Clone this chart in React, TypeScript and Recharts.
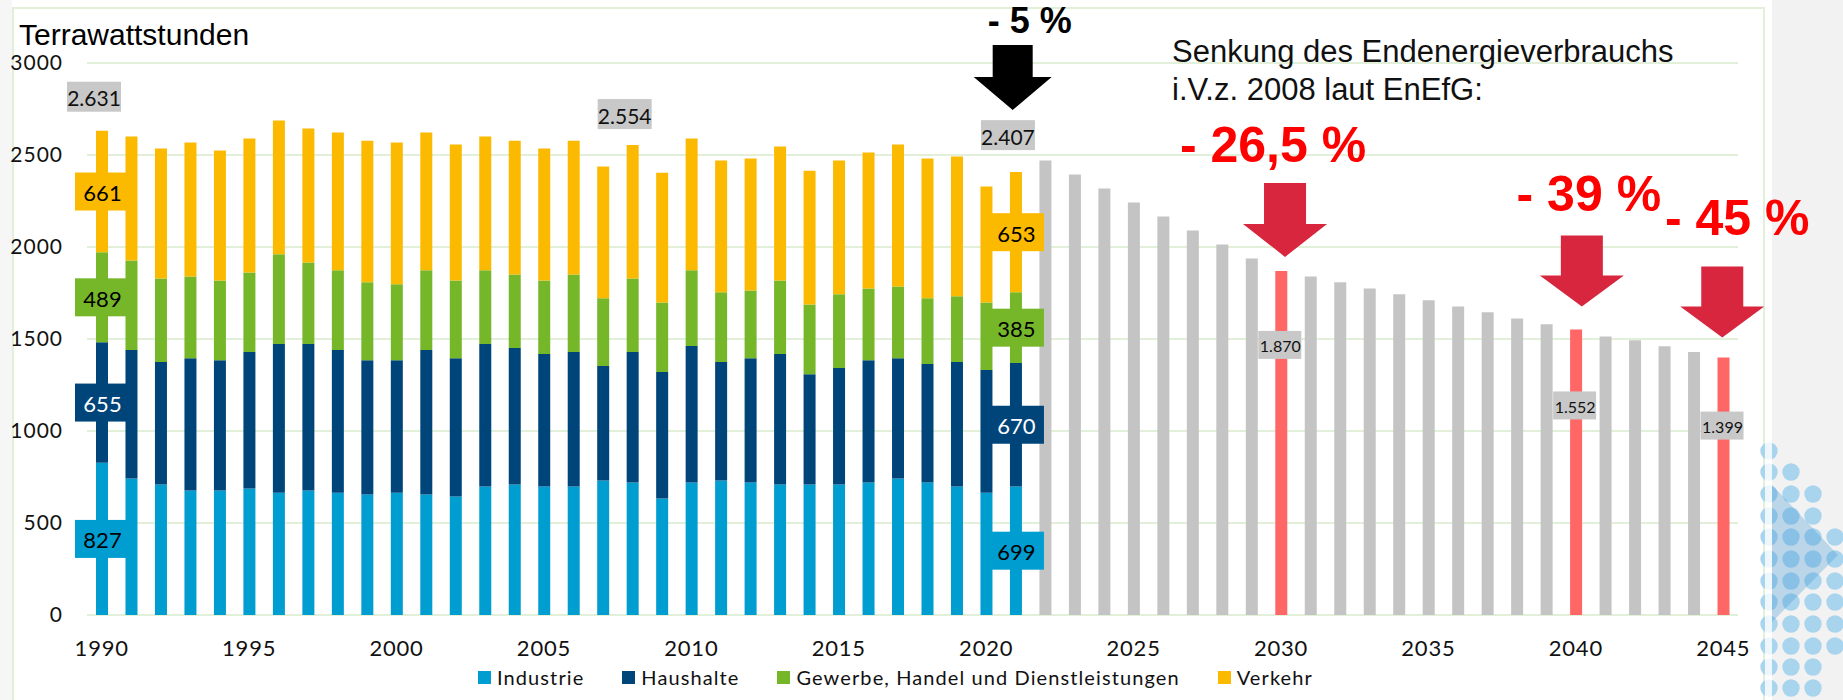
import React from 'react';
import { BarChart, Bar, XAxis, YAxis, CartesianGrid, Legend, LabelList, ReferenceDot, Cell } from 'recharts';

// ---------- data ----------
const years = [
  '1990', '1991', '1992', '1993', '1994', '1995', '1996', '1997', '1998', '1999',
  '2000', '2001', '2002', '2003', '2004', '2005', '2006', '2007', '2008', '2009',
  '2010', '2011', '2012', '2013', '2014', '2015', '2016', '2017', '2018', '2019',
  '2020', '2021', '2022', '2023', '2024', '2025', '2026', '2027', '2028', '2029',
  '2030', '2031', '2032', '2033', '2034', '2035', '2036', '2037', '2038', '2039',
  '2040', '2041', '2042', '2043', '2044', '2045',
];

// historical years 1990–2021 (TWh)
const industrie = [
  827, 742, 709, 676, 676, 687, 665, 676, 665, 655,
  665, 655, 644, 698, 709, 698, 698, 731, 720, 633,
  720, 731, 720, 709, 709, 709, 720, 742, 720, 698,
  665, 699,
];
const haushalte = [
  655, 698, 666, 720, 709, 742, 808, 797, 775, 730,
  720, 785, 752, 775, 742, 720, 731, 622, 709, 687,
  742, 644, 676, 709, 600, 633, 665, 654, 644, 677,
  666, 670,
];
const gewerbe = [
  489, 487, 454, 444, 433, 433, 487, 443, 433, 423,
  412, 433, 422, 400, 400, 400, 422, 368, 400, 379,
  411, 379, 368, 400, 379, 401, 390, 390, 357, 357,
  368, 385,
];
const verkehr = [
  661, 673, 706, 728, 706, 727, 727, 728, 749, 770,
  771, 749, 739, 727, 727, 717, 727, 716, 725, 705,
  716, 716, 717, 728, 727, 727, 738, 771, 760, 760,
  630, 653,
];
// projection years 2022–2045 (TWh)
const prognose = [
  2470, 2394, 2318, 2242, 2166, 2090, 2014, 1938, 1870, 1840,
  1808, 1775, 1743, 1710, 1677, 1645, 1612, 1580, 1552, 1514,
  1493, 1460, 1429, 1399,
];

const yTicks = [0, 500, 1000, 1500, 2000, 2500, 3000];

const segmentLabelYears = ['1990', '2021'];
const totalLabelYears = ['1990', '2008', '2021'];
const totalLabelValues = [2631, 2554, 2407];
const targetYears = ['2030', '2040', '2045'];
const targetTexts = ['- 26,5 %', '- 39 %', '- 45 %'];
const currentYear = '2021';
const currentText = '- 5 %';

const seriesNames = ['Industrie', 'Haushalte', 'Gewerbe, Handel und Dienstleistungen', 'Verkehr'];

// ---------- styles ----------
const C_IND = '#009DD1';
const C_HH = '#00457A';
const C_GHD = '#76B72A';
const C_VK = '#FBBA00';
const C_GRAY = '#C4C4C4';
const C_TARGET = '#FF6666';
const C_BOX = '#C8C8C8';
const C_ARROW = '#D7263D';
const C_GRID = '#E2F0D9';
const SANS = 'Lato, "Open Sans", sans-serif';
const ARIAL = '"Liberation Sans", Arial, sans-serif';
const totalLabelLift = [34, 31, 37];
const targetLabelDrop = [74, 76, 68];

const nHist = industrie.length;
const data = years.map((year, i) => ({
  year,
  industrie: i < nHist ? industrie[i] : null,
  haushalte: i < nHist ? haushalte[i] : null,
  gewerbe: i < nHist ? gewerbe[i] : null,
  verkehr: i < nHist ? verkehr[i] : null,
  prognose: i >= nHist ? prognose[i - nHist] : null,
}));

const legendItems = [
  { name: seriesNames[0], color: C_IND },
  { name: seriesNames[1], color: C_HH },
  { name: seriesNames[2], color: C_GHD },
  { name: seriesNames[3], color: C_VK },
];

const boxOf = (p: any) => {
  const vb = p.viewBox ?? {};
  const x = Number(p.x ?? vb.x);
  const y = Number(p.y ?? vb.y);
  const w = Number(p.width ?? vb.width);
  const h = Number(p.height ?? vb.height);
  return { x, y: h < 0 ? y + h : y, width: w, height: Math.abs(h) };
};

// find the category year of a label entry, robust to skipped empty entries
const yearOfSeries = (p: any, arr: number[], start: number): string => {
  if (p?.payload?.year) return p.payload.year as string;
  const i = Number(p.index);
  const v = Array.isArray(p.value) ? p.value[1] - p.value[0] : Number(p.value);
  if (i - start >= 0 && arr[i - start] === v) return years[i];
  if (arr[i] === v) return years[start + i];
  return years[i];
};
const fmtDE = (v: number) => v.toLocaleString('de-DE');

const segmentLabel = (arr: number[], fill: string, textColor: string) => (p: any) => {
  const year = yearOfSeries(p, arr, 0);
  if (!segmentLabelYears.includes(year)) return null;
  const { x, y, width, height } = boxOf(p);
  const cx = x + width / 2;
  const cy = y + height / 2;
  const v = arr[years.indexOf(year)];
  return (
    <g>
      <rect x={cx - 27} y={cy - 19} width={55} height={38} fill={fill} />
      <text x={cx + 0.5} y={cy + 1} textAnchor="middle" dominantBaseline="central" fontSize={22} fontFamily={SANS} fill={textColor}>
        {v}
      </text>
    </g>
  );
};

const totalLabel = (p: any) => {
  const year = yearOfSeries(p, verkehr, 0);
  const k = totalLabelYears.indexOf(year);
  if (k < 0) return null;
  const { x, y, width } = boxOf(p);
  const cx = x + width / 2 - 8;
  const cy = y - totalLabelLift[k];
  return (
    <g>
      <rect x={cx - 27} y={cy - 15} width={54} height={30} fill={C_BOX} />
      <text x={cx} y={cy + 1} textAnchor="middle" dominantBaseline="central" fontSize={21} fontFamily={SANS} fill="#111">
        {fmtDE(totalLabelValues[k])}
      </text>
    </g>
  );
};

const targetLabel = (p: any) => {
  const year = yearOfSeries(p, prognose, nHist);
  const k = targetYears.indexOf(year);
  if (k < 0) return null;
  const { x, y, width } = boxOf(p);
  const cx = x + width / 2 - 2;
  const cy = y + targetLabelDrop[k];
  const v = prognose[years.indexOf(year) - nHist];
  return (
    <g>
      <rect x={cx - 21} y={cy - 14} width={43} height={28} fill={C_BOX} />
      <text x={cx + 1} y={cy + 1} textAnchor="middle" dominantBaseline="central" fontSize={16} fontFamily={SANS} fill="#111">
        {fmtDE(v)}
      </text>
    </g>
  );
};

// annotation geometry (offsets relative to bar top)
const annotationStyles = [
  { color: '#000000', textColor: '#000000', fontSize: 36, tipGap: 62, headH: 33, shaftH: 32, shaftW: 40, headW: 78, arrowDx: -3, textDx: 14, textUp: 139 },
  { color: C_ARROW, textColor: '#FF0000', fontSize: 50, tipGap: 14, headH: 33, shaftH: 41, shaftW: 42, headW: 84, arrowDx: 4, textDx: -8, textUp: 109 },
  { color: C_ARROW, textColor: '#FF0000', fontSize: 50, tipGap: 23, headH: 31, shaftH: 40, shaftW: 42, headW: 84, arrowDx: 6, textDx: 13, textUp: 118 },
  { color: C_ARROW, textColor: '#FF0000', fontSize: 50, tipGap: 20, headH: 31, shaftH: 40, shaftW: 42, headW: 84, arrowDx: -1, textDx: 14, textUp: 123 },
];

const cur = years.indexOf(currentYear);
const annotations = [
  { year: currentYear, value: industrie[cur] + haushalte[cur] + gewerbe[cur] + verkehr[cur], text: currentText },
  ...targetYears.map((y, k) => ({ year: y, value: prognose[years.indexOf(y) - nHist], text: targetTexts[k] })),
];

const arrowShape = (s: typeof annotationStyles[number], text: string) => (p: any) => {
  const cx = Number(p.cx);
  const top = Number(p.cy);
  const ax = cx + s.arrowDx;
  const tip = top - s.tipGap;
  const headTop = tip - s.headH;
  const shaftTop = headTop - s.shaftH;
  const pts = [
    [ax - s.shaftW / 2, shaftTop],
    [ax + s.shaftW / 2, shaftTop],
    [ax + s.shaftW / 2, headTop],
    [ax + s.headW / 2, headTop],
    [ax, tip],
    [ax - s.headW / 2, headTop],
    [ax - s.shaftW / 2, headTop],
  ].map((q) => q.join(',')).join(' ');
  return (
    <g>
      <polygon points={pts} fill={s.color} />
      <text x={cx + s.textDx} y={top - s.textUp} textAnchor="middle" fontSize={s.fontSize} fontWeight="bold" fontFamily={ARIAL} fill={s.textColor}>
        {text}
      </text>
    </g>
  );
};

const dotCols = [1769, 1791, 1813, 1835];
const dotRows = [451, 472, 494, 516, 537, 559, 581, 602, 624, 646, 667, 688];
const dotCounts = [1, 2, 3, 3, 4, 4, 4, 4, 4, 4, 3, 3];

const renderLegend = () => (
  <div style={{ display: 'flex', alignItems: 'center', height: 26, fontFamily: SANS, fontSize: 20, letterSpacing: 1.1, color: '#111', whiteSpace: 'nowrap' }}>
    {legendItems.map((it) => (
      <div key={it.name} style={{ display: 'flex', alignItems: 'center', marginRight: 38 }}>
        <span style={{ display: 'inline-block', width: 13, height: 13, background: it.color, marginRight: 6 }} />
        <span>{it.name}</span>
      </div>
    ))}
  </div>
);

export default function App() {
  return (
    <div style={{ position: 'absolute', left: 0, top: 0, width: 1843, height: 700, background: '#fff', overflow: 'hidden' }}>
      {/* frame & decoration */}
      <div style={{ position: 'absolute', left: 0, top: 0, width: 12, height: 700, background: '#F6F6F6' }} />
      <div style={{ position: 'absolute', left: 12, top: 7, width: 1749, height: 720, border: `2px solid ${C_GRID}` }} />
      <svg style={{ position: 'absolute', left: 0, top: 0 }} width={1843} height={700}>
        <rect x={1772} y={0} width={71} height={700} fill="#F2F2F2" />
        {dotRows.map((ry, r) =>
          dotCols.slice(0, dotCounts[r]).map((dx) => <circle key={`${r}-${dx}`} cx={dx} cy={ry} r={8.7} fill="#A9D4EE" />),
        )}
        <rect x={1765} y={0} width={7} height={700} fill="#fff" opacity={0.8} />
        <polygon points="1772,485 1838,555 1772,622" fill="#3E95D3" opacity={0.3} />
      </svg>

      <div style={{ position: 'absolute', left: 0, top: 0 }}>
        <BarChart width={1843} height={700} data={data} margin={{ top: 63, right: 105, left: 0, bottom: 9 }} barSize={12}>
          <CartesianGrid vertical={false} stroke={C_GRID} strokeWidth={2} />
          <XAxis
            dataKey="year"
            interval={4}
            tickLine={false}
            axisLine={false}
            tickSize={0}
            tickMargin={25}
            height={50}
            tick={{ fontSize: 22, fontFamily: SANS, fill: '#111', letterSpacing: 0.8 }}
          />
          <YAxis
            domain={[0, 3000]}
            ticks={yTicks}
            interval={0}
            tickLine={false}
            axisLine={false}
            tickSize={0}
            tickMargin={24}
            width={87}
            tick={{ fontSize: 21, fontFamily: SANS, fill: '#111', letterSpacing: 1 }}
          />
          <Legend verticalAlign="bottom" align="left" wrapperStyle={{ left: 478, bottom: 10, width: 'auto', height: 26 }} content={renderLegend} />
          <Bar dataKey="industrie" name={seriesNames[0]} stackId="a" fill={C_IND} isAnimationActive={false}>
            <LabelList dataKey="industrie" content={segmentLabel(industrie, C_IND, '#000')} />
          </Bar>
          <Bar dataKey="haushalte" name={seriesNames[1]} stackId="a" fill={C_HH} isAnimationActive={false}>
            <LabelList dataKey="haushalte" content={segmentLabel(haushalte, C_HH, '#fff')} />
          </Bar>
          <Bar dataKey="gewerbe" name={seriesNames[2]} stackId="a" fill={C_GHD} isAnimationActive={false}>
            <LabelList dataKey="gewerbe" content={segmentLabel(gewerbe, C_GHD, '#000')} />
          </Bar>
          <Bar dataKey="verkehr" name={seriesNames[3]} stackId="a" fill={C_VK} isAnimationActive={false}>
            <LabelList dataKey="verkehr" content={segmentLabel(verkehr, C_VK, '#000')} />
            <LabelList dataKey="verkehr" content={totalLabel} />
          </Bar>
          <Bar dataKey="prognose" name="Prognose" stackId="a" fill={C_GRAY} legendType="none" isAnimationActive={false}>
            {data.map((d) => (
              <Cell key={d.year} fill={targetYears.includes(d.year) ? C_TARGET : C_GRAY} />
            ))}
            <LabelList dataKey="prognose" content={targetLabel} />
          </Bar>
          {annotations.map((a, k) => (
            <ReferenceDot key={a.year} x={a.year} y={a.value} r={0} ifOverflow="visible" shape={arrowShape(annotationStyles[k], a.text)} />
          ))}
        </BarChart>
      </div>

      <svg style={{ position: 'absolute', left: 0, top: 0, pointerEvents: 'none' }} width={1843} height={700}>
        <text x={19} y={45} fontSize={30} fontFamily={ARIAL} fill="#000">Terrawattstunden</text>
        <text x={1172} y={62} fontSize={31} fontFamily={ARIAL} fill="#111">Senkung des Endenergieverbrauchs</text>
        <text x={1172} y={100} fontSize={31} fontFamily={ARIAL} fill="#111">i.V.z. 2008 laut EnEfG:</text>
      </svg>
    </div>
  );
}
